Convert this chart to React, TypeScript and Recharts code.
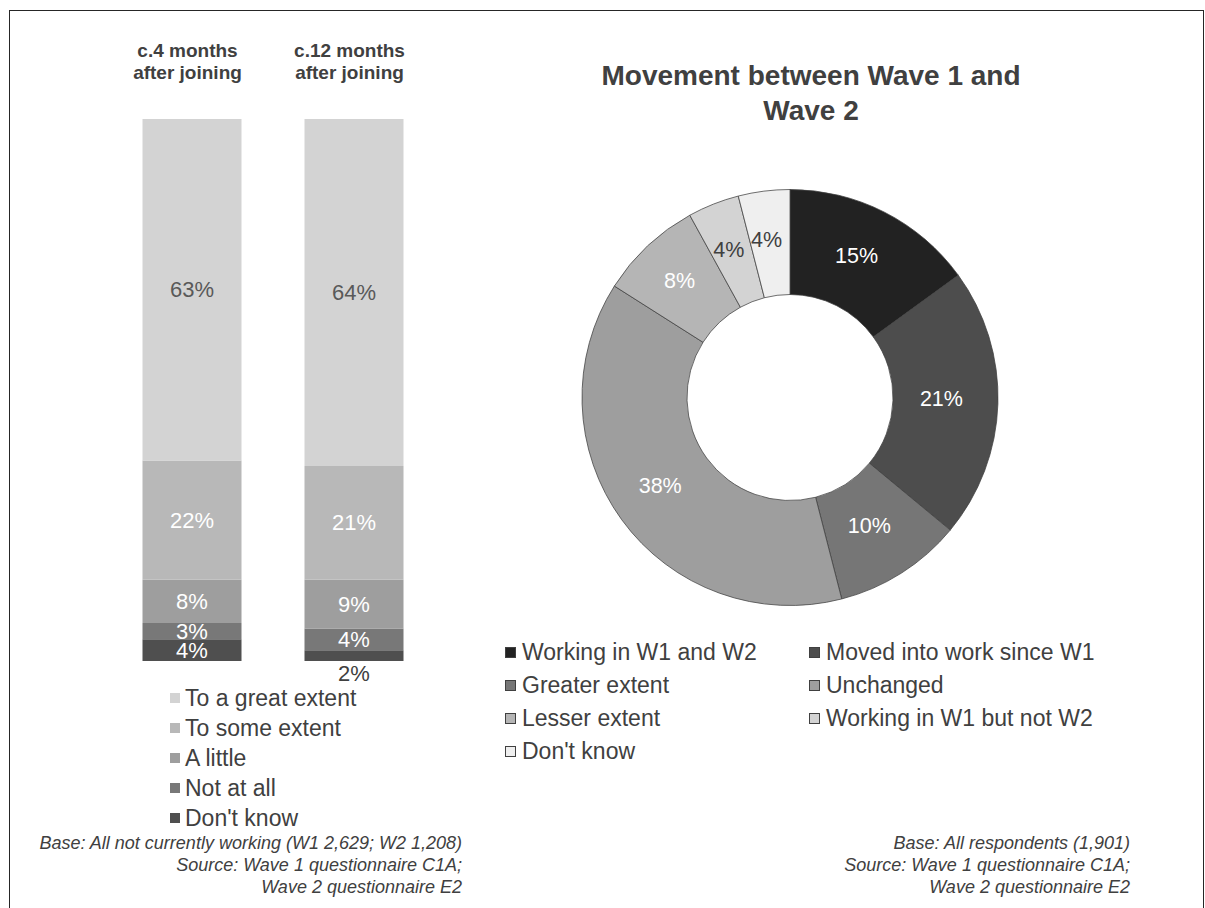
import React from 'react';
import { BarChart, Bar, XAxis, YAxis, LabelList, Legend, PieChart, Pie, Cell } from 'recharts';

// left chart: extent categories over two waves
const periods = ['c.4 months\nafter joining', 'c.12 months\nafter joining'];
const greatExtent = [63, 64];
const someExtent = [22, 21];
const aLittle = [8, 9];
const notAtAll = [3, 4];
const dontKnowExtent = [4, 2];

// right chart: movement between waves
const movementLabels = [
  'Working in W1 and W2',
  'Moved into work since W1',
  'Greater extent',
  'Unchanged',
  'Lesser extent',
  'Working in W1 but not W2',
  "Don't know",
];
const movementValues = [15, 21, 10, 38, 8, 4, 4];

const FONT = '"Liberation Sans", Arial, sans-serif';
const INK = '#404040';

const extentSeries = [
  { key: 'dontKnow', name: "Don't know", color: '#4f4f4f', ink: '#fff' },
  { key: 'notAtAll', name: 'Not at all', color: '#787878', ink: '#fff' },
  { key: 'aLittle', name: 'A little', color: '#9e9e9e', ink: '#fff' },
  { key: 'some', name: 'To some extent', color: '#b8b8b8', ink: '#fff' },
  { key: 'great', name: 'To a great extent', color: '#d3d3d3', ink: '#595959' },
];

const movementColors = ['#222222', '#4d4d4d', '#767676', '#9e9e9e', '#b5b5b5', '#d3d3d3', '#efefef'];
const movementInk = ['#fff', '#fff', '#fff', '#fff', '#fff', INK, INK];

const barData = periods.map((period, i) => ({
  period,
  great: greatExtent[i],
  some: someExtent[i],
  aLittle: aLittle[i],
  notAtAll: notAtAll[i],
  dontKnow: dontKnowExtent[i],
}));

const pieData = movementLabels.map((name, i) => ({ name, value: movementValues[i] }));

const PeriodTick = ({ x, y, payload }: any) => {
  const [l1, l2] = String(payload.value).split('\n');
  return (
    <text x={x - 4} y={y} textAnchor="middle" fontWeight="bold" fontSize={19} fill={INK} fontFamily={FONT}>
      <tspan x={x - 4} dy={-54}>{l1}</tspan>
      <tspan x={x - 4} dy={22}>{l2}</tspan>
    </text>
  );
};

const makeBarLabel = (ink: string) => (props: any) => {
  const { x, y, width, height, value } = props;
  const small = height < 14;
  return (
    <text
      x={x + width / 2}
      y={small ? y + height + 12 : y + height / 2}
      fill={small ? INK : ink}
      textAnchor="middle"
      dominantBaseline="central"
      fontSize={22}
      fontFamily={FONT}
    >
      {value}%
    </text>
  );
};

const ExtentLegend = () => (
  <div style={{ fontFamily: FONT, fontSize: 23, color: INK }}>
    {[...extentSeries].reverse().map((s) => (
      <div key={s.key} style={{ height: 30, lineHeight: '30px', display: 'flex', alignItems: 'center' }}>
        <span style={{ width: 10, height: 10, background: s.color, marginLeft: 2, marginRight: 5 }} />
        {s.name}
      </div>
    ))}
  </div>
);

const MovementLegend = () => (
  <div style={{ fontFamily: FONT, fontSize: 23, color: INK, display: 'grid', gridTemplateColumns: '304px 320px' }}>
    {movementLabels.map((name, i) => (
      <div key={name} style={{ height: 33, lineHeight: '33px', display: 'flex', alignItems: 'center' }}>
        <span
          style={{
            width: 9,
            height: 9,
            background: movementColors[i],
            border: `1px solid ${INK}`,
            marginRight: 6,
          }}
        />
        {name}
      </div>
    ))}
  </div>
);

const RADIAN = Math.PI / 180;
const renderDonutLabel = ({ cx, cy, midAngle, innerRadius, outerRadius, value, index }: any) => {
  const r = (innerRadius + outerRadius) / 2;
  const x = cx + r * Math.cos(-midAngle * RADIAN) - 4;
  const y = cy + r * Math.sin(-midAngle * RADIAN) - 3;
  return (
    <text x={x} y={y} fill={movementInk[index]} textAnchor="middle" dominantBaseline="central" fontSize={21.5} fontFamily={FONT}>
      {value}%
    </text>
  );
};

const noteStyle: React.CSSProperties = {
  position: 'absolute',
  fontFamily: FONT,
  fontStyle: 'italic',
  fontSize: 18,
  lineHeight: '22px',
  color: INK,
  textAlign: 'right',
};

export default function App() {
  return (
    <div style={{ position: 'absolute', left: 0, top: 0, width: 1205, height: 908, overflow: 'hidden', fontFamily: FONT }}>
      <style>{'body{margin:0;overflow:hidden;}'}</style>
      <div
        style={{
          position: 'absolute',
          left: 9,
          top: 10,
          width: 1195,
          height: 920,
          boxSizing: 'border-box',
          border: '1.5px solid #262626',
        }}
      />

      <div style={{ position: 'absolute', left: 0, top: 0 }}>
        <BarChart width={480} height={840} data={barData} margin={{ top: 19, right: 45.5, bottom: 179, left: 110.5 }}>
          <XAxis dataKey="period" orientation="top" height={100} axisLine={false} tickLine={false} tick={<PeriodTick />} />
          <YAxis type="number" domain={[0, 100]} hide />
          {extentSeries.map((s) => (
            <Bar key={s.key} dataKey={s.key} name={s.name} stackId="a" fill={s.color} barSize={99} isAnimationActive={false}>
              <LabelList dataKey={s.key} content={makeBarLabel(s.ink)} />
            </Bar>
          ))}
          <Legend
            layout="vertical"
            align="center"
            verticalAlign="middle"
            content={<ExtentLegend />}
            wrapperStyle={{ left: 168, top: 683, width: 300 }}
          />
        </BarChart>
      </div>

      <div style={{ ...noteStyle, left: 0, width: 462, top: 832 }}>
        Base: All not currently working (W1 2,629; W2 1,208)
        <br />
        Source: Wave 1 questionnaire C1A;
        <br />
        Wave 2 questionnaire E2
      </div>

      <div
        style={{
          position: 'absolute',
          left: 560,
          width: 502,
          top: 58,
          textAlign: 'center',
          fontWeight: 'bold',
          fontSize: 28,
          lineHeight: '35px',
          color: INK,
        }}
      >
        Movement between Wave 1 and
        <br />
        Wave 2
      </div>

      <div style={{ position: 'absolute', left: 490, top: 0 }}>
        <PieChart width={715} height={800}>
          <Pie
            data={pieData}
            dataKey="value"
            nameKey="name"
            cx={295}
            cy={392.5}
            innerRadius={103}
            outerRadius={208}
            startAngle={90}
            endAngle={-270}
            stroke={INK}
            strokeWidth={0.75}
            label={renderDonutLabel}
            labelLine={false}
            isAnimationActive={false}
          >
            {pieData.map((d, i) => (
              <Cell key={d.name} fill={movementColors[i]} />
            ))}
          </Pie>
          <Legend
            layout="vertical"
            align="center"
            verticalAlign="middle"
            content={<MovementLegend />}
            wrapperStyle={{ left: 15, top: 635.5, width: 640 }}
          />
        </PieChart>
      </div>

      <div style={{ ...noteStyle, left: 700, width: 430, top: 832 }}>
        Base: All respondents (1,901)
        <br />
        Source: Wave 1 questionnaire C1A;
        <br />
        Wave 2 questionnaire E2
      </div>
    </div>
  );
}
